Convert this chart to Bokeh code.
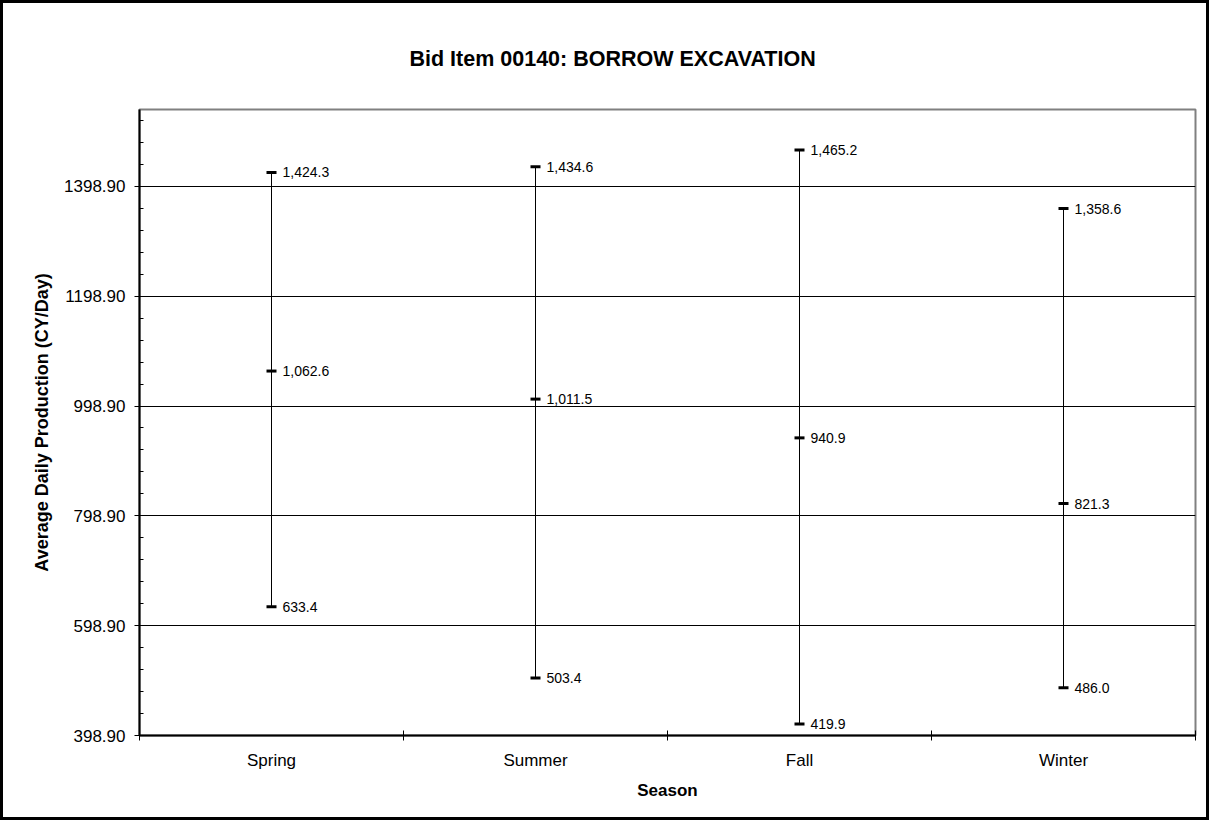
from bokeh.plotting import figure
from bokeh.models import FixedTicker, Range1d, ColumnDataSource, NumeralTickFormatter
from bokeh.embed import file_html
from bokeh.resources import INLINE
from bokeh.core.properties import value

# ---- data ----
seasons = ["Spring", "Summer", "Fall", "Winter"]
high = [1424.3, 1434.6, 1465.2, 1358.6]
mid = [1062.6, 1011.5, 940.9, 821.3]
low = [633.4, 503.4, 419.9, 486.0]
y_ticks = [398.9, 598.9, 798.9, 998.9, 1198.9, 1398.9]
title_text = "Bid Item 00140: BORROW EXCAVATION"
x_label = "Season"
y_label = "Average Daily Production (CY/Day)"

FONT = "Liberation Sans"
W, H = 1209, 820

xs = [i + 0.5 for i in range(len(seasons))]
pts_x, pts_y, pts_lab = [], [], []
for x, h, m, l in zip(xs, high, mid, low):
    for v in (h, m, l):
        pts_x.append(x)
        pts_y.append(v)
        pts_lab.append(f"{v:,.1f}")
src = ColumnDataSource(dict(x=pts_x, y=pts_y, label=pts_lab))

y_min, y_max = 398.9, 1538.9
minor = [y_min + 40 * k for k in range(int((y_max - y_min) / 40) + 1)]

p = figure(width=W, height=H, x_range=Range1d(0, len(seasons)), y_range=Range1d(y_min, y_max),
           output_backend="svg", toolbar_location=None,
           min_border_left=136, min_border_right=17, min_border_top=106, min_border_bottom=88)
p.styles = {"border": "3px solid black"}
p.background_fill_color = "white"
p.border_fill_color = "white"
p.outline_line_color = "#808080"
p.outline_line_width = 2

p.title.text = title_text
p.title.align = "left"
p.title.text_font = FONT
p.title.text_font_size = "21.5px"
p.title.text_font_style = "bold"
p.title.text_color = "black"
p.title.offset = 270
p.title.standoff = 78

# grid
p.xgrid.visible = False
p.ygrid.ticker = FixedTicker(ticks=y_ticks)
p.ygrid.grid_line_color = "black"
p.ygrid.grid_line_width = 1

# y axis
ya = p.yaxis[0]
ya.ticker = FixedTicker(ticks=y_ticks, minor_ticks=minor)
ya.formatter = NumeralTickFormatter(format="0.00")
ya.major_tick_in = 0
ya.major_tick_out = 5
ya.minor_tick_in = 4
ya.minor_tick_out = 0
ya.axis_line_color = "black"
ya.axis_line_width = 2
ya.major_tick_line_color = "black"
ya.minor_tick_line_color = "black"
ya.major_label_text_font = FONT
ya.major_label_text_font_size = "17px"
ya.major_label_text_color = "black"
ya.major_label_standoff = 9
ya.axis_label = y_label
ya.axis_label_text_font = FONT
ya.axis_label_text_font_size = "18px"
ya.axis_label_text_font_style = "bold"
ya.axis_label_text_color = "black"
ya.axis_label_standoff = 9

# x axis
xa = p.xaxis[0]
xa.ticker = FixedTicker(ticks=xs, minor_ticks=list(range(len(seasons) + 1)))
xa.major_label_overrides = {x: s for x, s in zip(xs, seasons)}
xa.major_tick_in = 0
xa.major_tick_out = 0
xa.minor_tick_in = 5
xa.minor_tick_out = 5
xa.axis_line_color = "black"
xa.axis_line_width = 2
xa.minor_tick_line_color = "black"
xa.major_label_text_font = FONT
xa.major_label_text_font_size = "17px"
xa.major_label_text_color = "black"
xa.major_label_standoff = 10
xa.axis_label = x_label
xa.axis_label_text_font = FONT
xa.axis_label_text_font_size = "17px"
xa.axis_label_text_font_style = "bold"
xa.axis_label_text_color = "black"
xa.axis_label_standoff = 8

# high-low lines
p.segment(x0=xs, y0=low, x1=xs, y1=high, line_color="black", line_width=1)
# tick marks
p.rect(x="x", y="y", width=10, height=3, width_units="screen", height_units="screen",
       source=src, fill_color="black", line_color=None)
# value labels
p.text(x="x", y="y", text="label", source=src, x_offset=11, text_baseline="middle",
       text_align="left", text_font=value(FONT), text_font_size="14px", text_color="black")

open("out.html", "w").write(file_html(p, INLINE))
